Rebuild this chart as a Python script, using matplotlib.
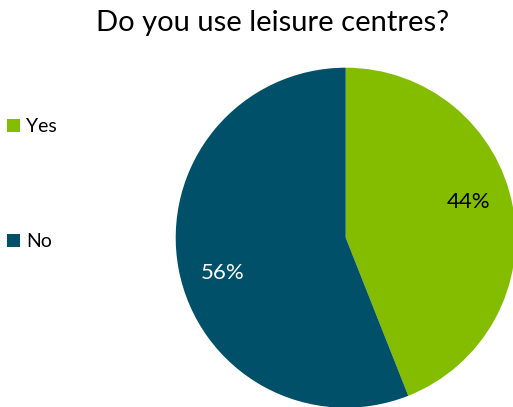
import matplotlib.pyplot as plt
import numpy as np
from matplotlib.patches import Patch

labels = ["Yes", "No"]
values = [44, 56]
colors = ["#84BD00", "#00506A"]
label_colors = ["black", "white"]

plt.rcParams["font.family"] = ["Lato", "DejaVu Sans"]

fig = plt.figure(figsize=(5.13, 4.07), dpi=100)

# pie axes: square box in pixels so the circle keeps its shape
W, H = 513, 407
cx, cy, r = 345.7, 237.7, 170
ax = fig.add_axes([(cx - r) / W, (H - cy - r) / H, 2 * r / W, 2 * r / H])

wedges, texts, autotexts = ax.pie(
    values,
    colors=colors,
    startangle=90,
    counterclock=False,
    autopct="%1.0f%%",
    pctdistance=0.755,
    radius=1,
    textprops={"fontsize": 16},
)
ax.set_xlim(-1, 1)
ax.set_ylim(-1, 1)

# nudge percentage labels a little round the circle
for w, t, c in zip(wedges, autotexts, label_colors):
    mid = np.deg2rad((w.theta1 + w.theta2) / 2 + 5.2)
    t.set_position((0.755 * np.cos(mid), 0.755 * np.sin(mid)))
    t.set_color(c)

fig.text(273 / W, 1 - 23 / H, "Do you use leisure centres?",
         ha="center", va="center", fontsize=21)

handles = [Patch(facecolor=c, edgecolor="none") for c in colors]
fig.legend(
    handles,
    labels,
    loc="upper left",
    bbox_to_anchor=(7 / W, 1 - 118 / H),
    frameon=False,
    fontsize=14,
    borderpad=0,
    borderaxespad=0,
    handlelength=0.67,
    handleheight=0.67,
    handletextpad=0.3,
    labelspacing=5.05,
)

fig.savefig("out.png", dpi=100)
plt.close(fig)
